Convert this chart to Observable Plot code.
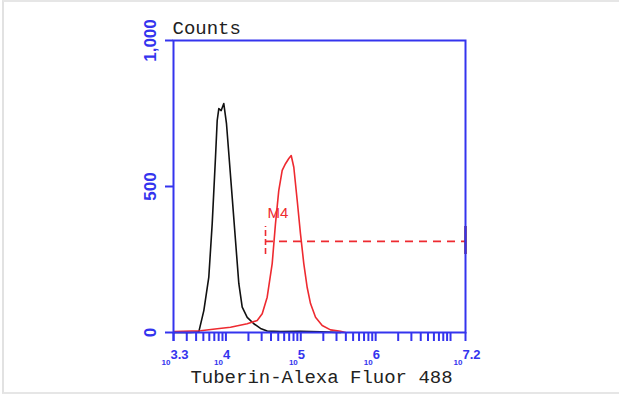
<!DOCTYPE html>
<html>
<head>
<meta charset="utf-8">
<script src="https://cdn.jsdelivr.net/npm/d3@7"></script>
<script src="https://cdn.jsdelivr.net/npm/@observablehq/plot@0.6"></script>
<style>
  html, body { margin: 0; padding: 0; background: #fff; }
  #wrap { position: relative; width: 619px; height: 394px; overflow: hidden; }
  #frame { position: absolute; left: 2px; top: 0; width: 640px; height: 390px;
           border-left: 2px solid #e2e2e2; border-top: 2px solid #e6e6e6; border-bottom: 2px solid #e6e6e6; pointer-events: none; }
</style>
</head>
<body>
<div id="wrap"><div id="frame"></div></div>
<script>
// Fluorescence intensity (linear units, log-scaled axis) and counts
const blackIntensity = [2057, 3365, 4345, 5070, 5910, 6560, 7260, 7650, 8040, 8650, 9370, 10180, 10930, 12140, 13430, 14870, 16510, 19250, 23590, 28980, 35580, 53600, 99100, 183400, 339400];
const blackCounts    = [0,    0,    2,    75,   190,  373,  600,  726,  767,  760,  784,  715,   613,   462,   315,   168,   87,    52,    30,    14,    5,     3,     4,     2,      0];

const redIntensity = [2057, 4580, 7650, 11510, 19250, 26180, 30540, 35580, 41510, 45910, 50800, 56460, 62520, 69200, 74500, 80700, 89600, 99100, 109700, 121800, 134900, 157400, 193300, 249400, 339400, 395800];
const redCounts    = [3,    6,    13,   18,    30,    41,    64,    121,   236,   372,   486,   555,   578,   596,   606,   566,   452,   338,   236,    154,    99,     52,     24,     9,      4,      0];

// Marker gate M4
const markerLabel = "M4";
const markerStart = 33800;
const markerEnd = Math.pow(10, 7.2);
const markerLevel = 312;
const markerTickLow = 267;
const markerTickHigh = 363;
const markerLabelLevel = 392;

// Axes
const xDomainExp = [3.3, 7.2];
const xLabelExps = ["3.3", "4", "5", "6", "7.2"];
const yTicks = [0, 500, 1000];
const yTickLabels = ["0", "500", "1,000"];
const yLabel = "Counts";
const xLabel = "Tuberin-Alexa Fluor 488";

const xDomain = xDomainExp.map(e => Math.pow(10, e));
const xMinorTicks = [Math.pow(10, 3.3)];
for (let d = 3; d <= 7; d++) for (let m = 1; m <= 9; m++) {
  const v = m * Math.pow(10, d);
  if (v > xDomain[0] && v < xDomain[1]) xMinorTicks.push(v);
}
xMinorTicks.push(xDomain[1]);
const xLabels = xLabelExps.map(e => ({v: Math.pow(10, +e), e}));

const blackData = blackIntensity.map((x, i) => ({x, y: blackCounts[i]}));
const redData = redIntensity.map((x, i) => ({x, y: redCounts[i]}));
const yLabelData = yTicks.map((v, i) => ({v, t: yTickLabels[i]}));

const BLUE = "#3434ee";
const RED = "#ee2a30";

const chart = Plot.plot({
  width: 619,
  height: 394,
  marginLeft: 173,
  marginRight: 154,
  marginTop: 40,
  marginBottom: 62,
  style: {background: "transparent", overflow: "visible"},
  x: {type: "log", domain: xDomain},
  y: {domain: [0, 1000]},
  marks: [
    Plot.axisX({ticks: xMinorTicks, tickSize: 9, tickFormat: () => "", stroke: BLUE, strokeWidth: 2, strokeOpacity: 1, label: null}),
    Plot.axisY({ticks: yTicks, tickSize: 8, tickFormat: () => "", stroke: BLUE, strokeWidth: 2, strokeOpacity: 1, label: null}),
    Plot.line(blackData, {x: "x", y: "y", stroke: "#111", strokeWidth: 1.6}),
    Plot.line(redData, {x: "x", y: "y", stroke: RED, strokeWidth: 1.6}),
    Plot.ruleY([markerLevel], {x1: markerStart, x2: markerEnd, stroke: RED, strokeWidth: 1.6, strokeDasharray: "8,6"}),
    Plot.ruleX([markerStart], {y1: markerTickLow, y2: markerTickHigh, stroke: RED, strokeWidth: 1.6, strokeDasharray: "6,3"}),
    Plot.ruleX([markerEnd], {y1: markerTickLow, y2: markerTickHigh, stroke: "#702040", strokeWidth: 2.5}),
    Plot.text([markerLabel], {x: markerStart, y: markerLabelLevel, text: d => d, textAnchor: "start", lineAnchor: "bottom", dx: 2, fill: RED, fontSize: 15, fontFamily: "Liberation Sans, Arial, sans-serif"}),
    Plot.frame({stroke: BLUE, strokeWidth: 2}),
    Plot.text(yLabelData, {y: "v", text: "t", frameAnchor: "left", dx: -23, rotate: -90, textAnchor: "middle", fill: BLUE, fontSize: 17, fontWeight: "bold", fontFamily: "Liberation Sans Narrow, Liberation Sans, Arial, sans-serif"}),
    Plot.text(xLabels, {x: "v", text: () => "10", frameAnchor: "bottom", dy: 32, dx: -3, textAnchor: "end", fill: BLUE, fontSize: 8, fontWeight: "bold", fontFamily: "Liberation Sans, Arial, sans-serif"}),
    Plot.text(xLabels, {x: "v", text: "e", frameAnchor: "bottom", dy: 26, dx: -3, textAnchor: "start", fill: BLUE, fontSize: 13, fontWeight: "bold", fontFamily: "Liberation Sans, Arial, sans-serif"}),
    Plot.text([yLabel], {frameAnchor: "top-left", text: d => d, dy: -20, dx: -1, textAnchor: "start", fill: "#222", fontSize: 19, fontFamily: "Liberation Mono, monospace"}),
    Plot.text([xLabel], {frameAnchor: "bottom", text: d => d, dy: 50, dx: 2, textAnchor: "middle", fill: "#222", fontSize: 19, fontFamily: "Liberation Mono, monospace"})
  ]
});
document.getElementById("wrap").insertBefore(chart, document.getElementById("frame"));
</script>
</body>
</html>
